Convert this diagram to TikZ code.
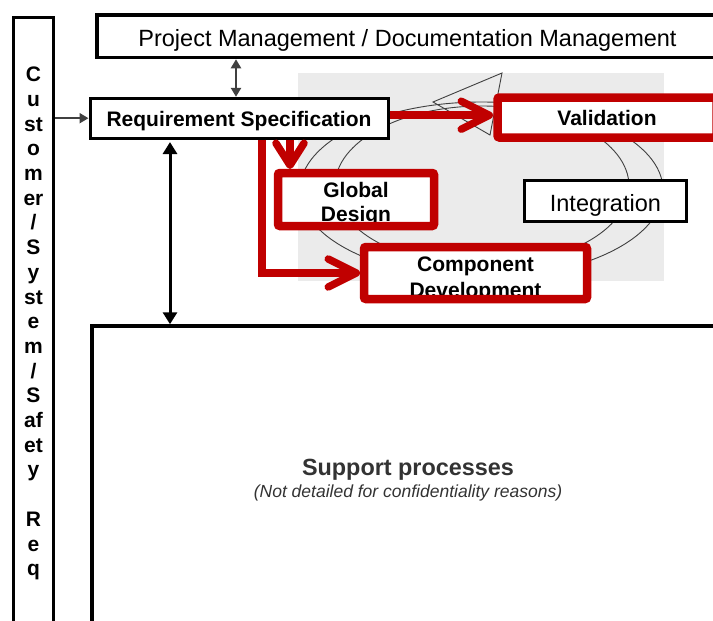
\documentclass[tikz,border=0pt]{standalone}
\usepackage{fontspec}
\setmainfont{Liberation Sans}
\usetikzlibrary{arrows.meta, positioning}
\definecolor{procred}{HTML}{C00000}
\definecolor{arrowgray}{HTML}{404040}
\definecolor{cyclegray}{HTML}{EBEBEB}
\definecolor{notegray}{HTML}{333333}

\begin{document}
\begin{tikzpicture}[
      x=1pt, y=-1pt, inner sep=0pt,
      box/.style={draw, fill=white, line width=3pt},
      redbox/.style={fill=white, outer sep=0pt, align=center,
        font=\fontsize{21}{24}\selectfont\bfseries},
      redframe/.style={draw=procred, line width=8.5pt, rounded corners=2pt},
      redarrow/.style={draw=procred, line width=7.5pt,
        -{Straight Barb[length=28pt, width=28pt, round]}},
      grayarrow/.style={draw=arrowgray, line width=2.5pt},
      coltext/.style={font=\fontsize{21}{24}\selectfont\bfseries, anchor=base},
      cycleline/.style={draw=arrowgray, line width=0.9pt},
      ]
      \useasboundingbox (0,0) rectangle (713,621);
      \clip (0,0) rectangle (713,621);

      % cycle behind the phases
      \fill[cyclegray] (298,73) rectangle (664,281);
      \draw[cycleline] (482,186) ellipse [x radius=147pt, y radius=80pt];
      \draw[cycleline] (481.5,190) ellipse [x radius=181.5pt, y radius=88pt];
      \draw[cycleline] (433,102) -- (502,73) -- (490,135) -- cycle;

      % frame boxes
      \node[box, minimum width=40pt, minimum height=700pt] (custcol) at (33.5,367.5) {};
      \foreach \s [count=\i] in {C,u,st,o,m,er,/,S,y,st,e,m,/,S,af,et,y,{},R,e,q}
        \node[coltext] (let\i) at (33.5,57+24.7*\i) {\s};
      \node[box, line width=3.5pt, minimum width=621pt, minimum height=42.5pt,
        text height=19.5pt, text depth=0pt,
        font=\fontsize{23.5}{27}\selectfont] (pm) at (407.5,36.25)
        {Project Management / Documentation Management};
      \node[box, minimum width=298pt, minimum height=39.7pt,
        text height=15.6pt, text depth=0pt,
        font=\fontsize{21}{24}\selectfont\bfseries] (req) at (239,118.2)
        {Requirement Specification};
      \node[box, line width=3.5pt, minimum width=632pt, minimum height=306pt] (support) at (408,479) {};
      \node[anchor=base, text=notegray, font=\fontsize{23.4}{27}\selectfont\bfseries]
        (suptitle) at (408,475) {Support processes};
      \node[anchor=base, text=notegray, font=\fontsize{17.5}{21}\selectfont\itshape]
        (supnote) at (408,497.7) {(Not detailed for confidentiality reasons)};

      % phases
      \node[box, line width=2.5pt, minimum width=162pt, minimum height=41pt,
        text height=19.8pt, text depth=0pt,
        font=\fontsize{23.5}{27}\selectfont] (integ) at (605.4,201.1) {Integration};
      \node[redbox, minimum width=219pt, minimum height=40pt,
        text height=16.4pt, text depth=0pt] (valid) at (607,117.5) {Validation};
      \node[redbox, minimum width=156pt, minimum height=53pt,
        text height=44.4pt, text depth=0pt] (gd) at (356,199.5) {Global\\Design};
      \node[redbox, minimum width=223pt, minimum height=52pt,
        font=\fontsize{21}{26}\selectfont\bfseries,
        text height=49.4pt, text depth=0pt] (cd) at (475.5,273) {Component\\Development};

      % connectors
      \draw[grayarrow, -{Triangle[length=9pt, width=10pt]}] (custcol.east |- req.west) -- (req.west);
      \draw[grayarrow, {Triangle[length=9pt, width=10pt]}-{Triangle[length=9pt, width=10pt]}]
        ([xshift=-3pt]req.north) -- ([xshift=-3pt]req.north |- pm.south);
      \draw[line width=3pt, {Triangle[length=12pt, width=14pt]}-{Triangle[length=12pt, width=14pt]},
        shorten <=2.5pt] ([xshift=-69pt]req.south) -- ([xshift=-69pt]req.south |- support.north);

      \draw[redarrow, shorten >=4.5pt] ([yshift=3pt]req.east) -- ([yshift=3pt]req.east -| valid.west);
      \draw[redarrow, -{Straight Barb[length=22pt, width=28pt, round]}, shorten >=4pt]
        ([xshift=51pt]req.south) -- ([xshift=51pt]req.south |- gd.north);
      \draw[redarrow, shorten >=4pt] ([xshift=23pt]req.south) |- (cd.west);

      \foreach \n in {valid, gd, cd}
        \draw[redframe] (\n.south west) rectangle (\n.north east);
    \end{tikzpicture}
\end{document}
